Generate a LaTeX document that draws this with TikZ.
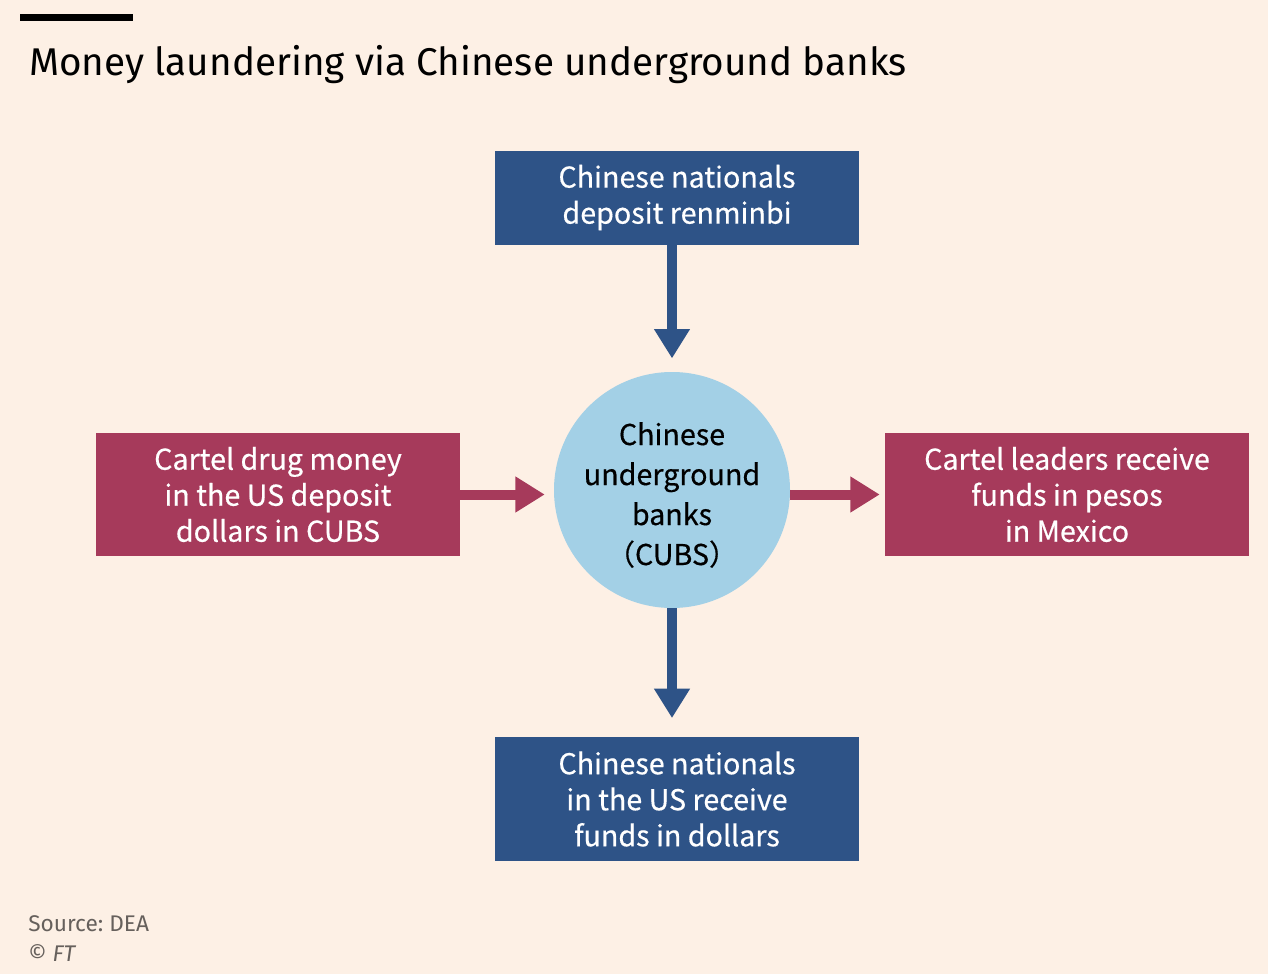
\documentclass[tikz,border=0pt]{standalone}
\usepackage{fontspec}
\setmainfont{Fira Sans}
\newfontfamily\boxfont[FakeBold = 0.5]{Noto Sans CJK SC}
\usetikzlibrary{arrows.meta}
\frenchspacing

\definecolor{ftbg}{HTML}{FDF0E5}
\definecolor{ftblue}{HTML}{2E5387}
\definecolor{ftred}{HTML}{A63A5B}
\definecolor{ftlight}{HTML}{A3D0E6}
\definecolor{ftgrey}{HTML}{66605C}

\tikzset{
	bluebox/.style = {fill = ftblue, text = white, minimum width = 273pt, align = center, font = \boxfont\fontsize{21.5}{27}\selectfont, inner sep = 0pt},
	redbox/.style = {fill = ftred, text = white, minimum width = 273pt, minimum height = 92.25pt, align = center, font = \boxfont\fontsize{21.5}{27}\selectfont, inner sep = 0pt},
	flow/.style = {line width = 7.5pt, -{Triangle[width = 25.5pt, length = 22pt]}}
}

\begin{document}
\begin{tikzpicture}[x = 0.75pt, y = -0.75pt]
	\fill[ftbg] (0, 0) rectangle (1268, 974);
	\useasboundingbox (0, 0) rectangle (1268, 974);
	
	\fill[black] (20, 14) rectangle (133, 21);
	\node[anchor = base west, inner sep = 0pt, font = \fontsize{29}{35}\selectfont] (title) at (29, 76) {Money laundering via Chinese underground banks};
	
	\node[bluebox, minimum height = 70.5pt] (deposit) at (677, 197.5) {Chinese nationals\\deposit renminbi};
	\node[circle, fill = ftlight, minimum size = 177pt, inner sep = 0pt] (cubs) at (672, 490) {};
	\node[align = center, font = \boxfont\fontsize{21.5}{30}\selectfont] (cubstext) at (672, 495) {Chinese\\underground\\banks\\（CUBS）};
	\node[redbox] (cartel) at (278, 494.5) {Cartel drug money\\in the US deposit\\dollars in CUBS};
	\node[redbox] (leaders) at (1067, 494.5) {Cartel leaders receive\\funds in pesos\\in Mexico};
	\node[bluebox, minimum height = 93pt] (receive) at (677, 799) {Chinese nationals\\in the US receive\\funds in dollars};
	
	\draw[flow, ftblue] (deposit.south -| cubs) -- ([yshift = 10pt] cubs.north);
	\draw[flow, ftblue] (cubs.south) -- ([yshift = 14pt] receive.north -| cubs);
	\draw[flow, ftred] (cartel.east) -- ([xshift = -6.75pt] cubs.west |- cartel.east);
	\draw[flow, ftred] (cubs.east |- leaders.west) -- ([xshift = -3.75pt] leaders.west);
	
	\node[anchor = base west, inner sep = 0pt, text = ftgrey, font = \fontsize{17}{20}\selectfont] (source) at (28, 931) {Source: DEA};
	\node[anchor = base west, inner sep = 0pt, text = ftgrey, font = \fontsize{17}{20}\selectfont] (copy) at (28, 961) {© \textit{FT}};
\end{tikzpicture}
\end{document}
